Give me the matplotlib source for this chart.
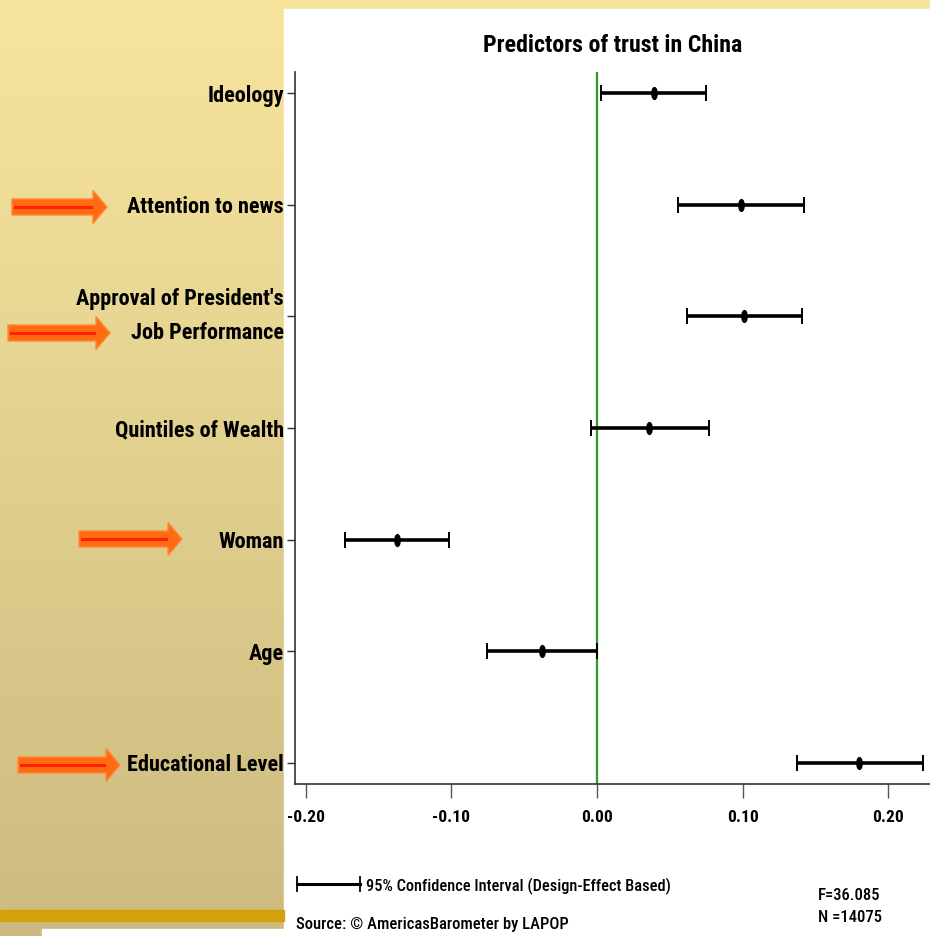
import matplotlib
matplotlib.use("Agg")
import matplotlib.pyplot as plt
import matplotlib.patches as patches
from matplotlib.path import Path
from matplotlib.transforms import Affine2D
import numpy as np

# ---- data ----
predictors = ["Ideology", "Attention to news", "Approval of President's\nJob Performance",
              "Quintiles of Wealth", "Woman", "Age", "Educational Level"]
coef = [0.039, 0.099, 0.101, 0.036, -0.137, -0.038, 0.180]
ci_low = [0.0025, 0.056, 0.062, -0.004, -0.173, -0.0755, 0.1375]
ci_high = [0.075, 0.142, 0.141, 0.0767, -0.1015, 0.0, 0.224]
xticks = [-0.20, -0.10, 0.00, 0.10, 0.20]
title = "Predictors of trust in China"
legend_text = "95% Confidence Interval (Design-Effect Based)"
source_text = "Source: \u00a9 AmericasBarometer by LAPOP"
stats_text = ["F=36.085", "N =14075"]

FONT = ["Roboto Condensed", "DejaVu Sans"]
W, H = 930, 936

fig = plt.figure(figsize=(W / 100, H / 100), dpi=100)

# slide background, drawn in pixel coordinates
bg = fig.add_axes([0, 0, 1, 1])
bg.set_xlim(0, W)
bg.set_ylim(H, 0)
bg.axis("off")
top_col = np.array([247, 229, 158]) / 255
bot_col = np.array([204, 186, 128]) / 255
t = np.linspace(0, 1, 256)[:, None, None]
grad = top_col * (1 - t) + bot_col * t
bg.imshow(grad, extent=[0, W, H, 0], aspect="auto", zorder=0)
bg.add_patch(patches.Rectangle((284, 9), W - 284, H - 9, color="white", zorder=1))
bg.add_patch(patches.Rectangle((0, 910), 284, 11, color="#D3A20B", zorder=1))
bg.add_patch(patches.Rectangle((42, 929), 242, 8, color="white", zorder=1))

# orange arrows pointing at the highlighted predictors: (x start, x end, y centre)
arrows = [(12, 107, 207), (8, 110, 333), (79, 182, 539), (18, 120, 765)]
for x0, x1, yc in arrows:
    bg.add_patch(patches.FancyArrow(x0, yc, x1 - x0, 0, width=16, head_width=33,
                                    head_length=14, length_includes_head=True,
                                    facecolor="#FF6A12", edgecolor="#FF8A3A",
                                    linewidth=1, zorder=2))
    bg.plot([x0 + 3, x1 - 16], [yc, yc], color="#FF2200", lw=2.2, zorder=3)

# legend sample and footer text
bg.plot([297, 360], [884, 884], color="black", lw=2.2, zorder=3)
bg.plot([297, 297], [877, 891], color="black", lw=1.3, zorder=3)
bg.plot([360, 360], [877, 891], color="black", lw=1.3, zorder=3)
bg.text(366, 886, legend_text, family=FONT, weight="medium", fontsize=11.8,
        va="center", ha="left", zorder=3)
bg.text(296, 924, source_text, family=FONT, weight="medium", fontsize=12,
        va="center", ha="left", zorder=3)
bg.text(818, 896, stats_text[0], family=FONT, weight="medium", fontsize=12,
        va="center", ha="left", zorder=3)
bg.text(818, 918, stats_text[1], family=FONT, weight="medium", fontsize=12,
        va="center", ha="left", zorder=3)

# ---- coefficient plot ----
ax = fig.add_axes([295 / W, 1 - 784 / H, 1 - 295 / W, (784 - 72) / H])
ax.patch.set_alpha(0)
ypos = np.arange(len(predictors))
coef_a = np.array(coef)
err = [coef_a - np.array(ci_low), np.array(ci_high) - coef_a]

oval = Path.unit_circle().transformed(Affine2D().scale(0.45, 1.0))
ax.axvline(0, color="#2E9A2E", lw=1.6, zorder=1)
ax.errorbar(coef, ypos, xerr=err, fmt="none", ecolor="black", elinewidth=2.6,
            capsize=6, capthick=1.4, zorder=3)
ax.plot(coef, ypos, linestyle="none", marker=oval, markersize=8.5,
        color="black", zorder=4)

ax.set_xlim(-0.2073, 0.2287)
ax.set_ylim(len(predictors) - 1 + 0.19, -0.19)
ax.set_yticks(ypos)
ax.set_yticklabels(predictors, family=FONT, weight="bold", fontsize=16,
                   linespacing=1.7)
for lab in ax.get_yticklabels():
    if "\n" in lab.get_text():
        lab.set_va("center")
ax.set_xticks(xticks)
ax.set_xticklabels([f"{v:.2f}" for v in xticks], family=FONT, weight="bold",
                   fontsize=12.5)
ax.tick_params(axis="y", length=6, width=1, color="#333333", pad=2)
ax.tick_params(axis="x", length=10, width=1, color="#555555", pad=9)
for side in ["top", "right"]:
    ax.spines[side].set_visible(False)
ax.spines["left"].set_color("#333333")
ax.spines["bottom"].set_color("#333333")
ax.spines["left"].set_linewidth(1.2)
ax.spines["bottom"].set_linewidth(1.2)

fig.text(613 / W, 1 - 46 / H, title, family=FONT, weight="bold", fontsize=17.2,
         ha="center", va="center")

fig.savefig("out.png", dpi=100)
